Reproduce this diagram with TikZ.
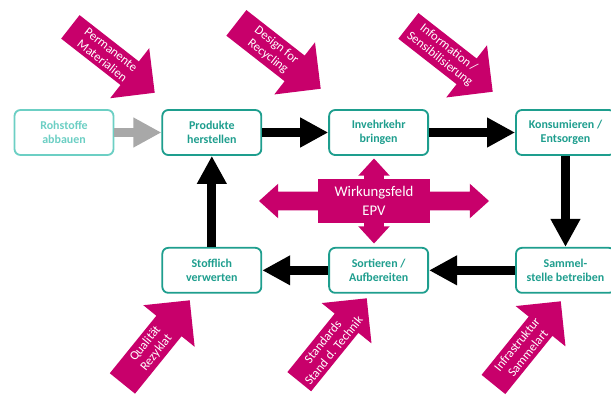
\documentclass[tikz,border=0pt]{standalone}
\usepackage{fontspec}
\setmainfont{Carlito}
\usetikzlibrary{arrows.meta,positioning,shapes.arrows}
\definecolor{boxteal}{HTML}{1E9E8E}
\definecolor{paleteal}{HTML}{6CCFC4}
\definecolor{epvpink}{HTML}{C8006B}
\definecolor{arrowgray}{HTML}{A8A8A8}

\begin{document}
\begin{tikzpicture}[node distance=2.275cm,
 box/.style={draw=boxteal,line width=1.3pt,rounded corners=0.15cm,fill=white,
 text=boxteal,minimum width=2.475cm,minimum height=1.125cm,align=center,
 font=\fontsize{8.5}{10}\selectfont\bfseries},
 lever/.style={single arrow,fill=epvpink,text=white,align=center,anchor=tip,
 minimum height=2.675cm,single arrow head extend=0.42cm,inner sep=2.5pt,
 font=\fontsize{9}{10}\selectfont},
 flow/.style={-{Triangle[length=0.7cm,width=0.7cm]},line width=0.225cm}]
\useasboundingbox (0,0) rectangle (15.275,-9.9);
% Stoffkreislauf
\node[box,draw=paleteal,text=paleteal] (roh) at (1.6,-3.3125) {Rohstoffe\\abbauen};
\node[box,right=1.175cm of roh] (prod) {Produkte\\herstellen};
\node[box,right=1.65cm of prod] (inv) {Invehrkehr\\bringen};
\node[box,right=2.15cm of inv] (kons) {Konsumieren /\\Entsorgen};
\node[box,below=of kons] (samm) {Sammel-\\stelle betreiben};
\node[box,below=of inv] (sort) {Sortieren /\\Aufbereiten};
\node[box,below=of prod] (stoff) {Stofflich\\verwerten};
\draw[flow,arrowgray] (roh)--(prod);
\foreach \x/\y in {prod/inv,inv/kons,kons/samm,samm/sort,sort/stoff,stoff/prod}
 \draw[flow] (\x)--(\y);
% Hebel
\node[lever,rotate=-38] (mat) at (3.875,-2.325) {Permanente\\Materialien};
\node[lever,rotate=-38] (design) at (8.025,-2.225) {Design for\\Recycling};
\node[lever,rotate=-38] (info) at (12.325,-2.3) {Information /\\Sensibilisierung};
\node[lever,rotate=51] (qual) at (4.75,-7.5) {Qualität\\Rezyklat};
\node[lever,rotate=51] (stand) at (9.175,-7.45) {Standards\\Stand d. Technik};
\node[lever,rotate=51] (infra) at (14.025,-7.525) {Infrastruktur\\Sammelart};
% Wirkungsfeld
\node[double arrow,fill=epvpink,minimum height=5.75cm,inner xsep=0pt,inner ysep=0.225cm,
 double arrow head extend=0.2cm,double arrow tip angle=84] (epvh) at (9.35,-5.025) {};
\node[double arrow,fill=epvpink,rotate=90,minimum height=2.125cm,inner xsep=0pt,inner ysep=0.2375cm,
 double arrow head extend=0.15cm,double arrow tip angle=85] (epvv) at (9.35,-5.025) {};
\node[fill=epvpink,text=white,minimum width=2.8cm,minimum height=1.1cm,align=center,
 font=\fontsize{10.5}{13.5}\selectfont] (epv) at (9.35,-5.025) {Wirkungsfeld\\EPV};
\end{tikzpicture}
\end{document}
